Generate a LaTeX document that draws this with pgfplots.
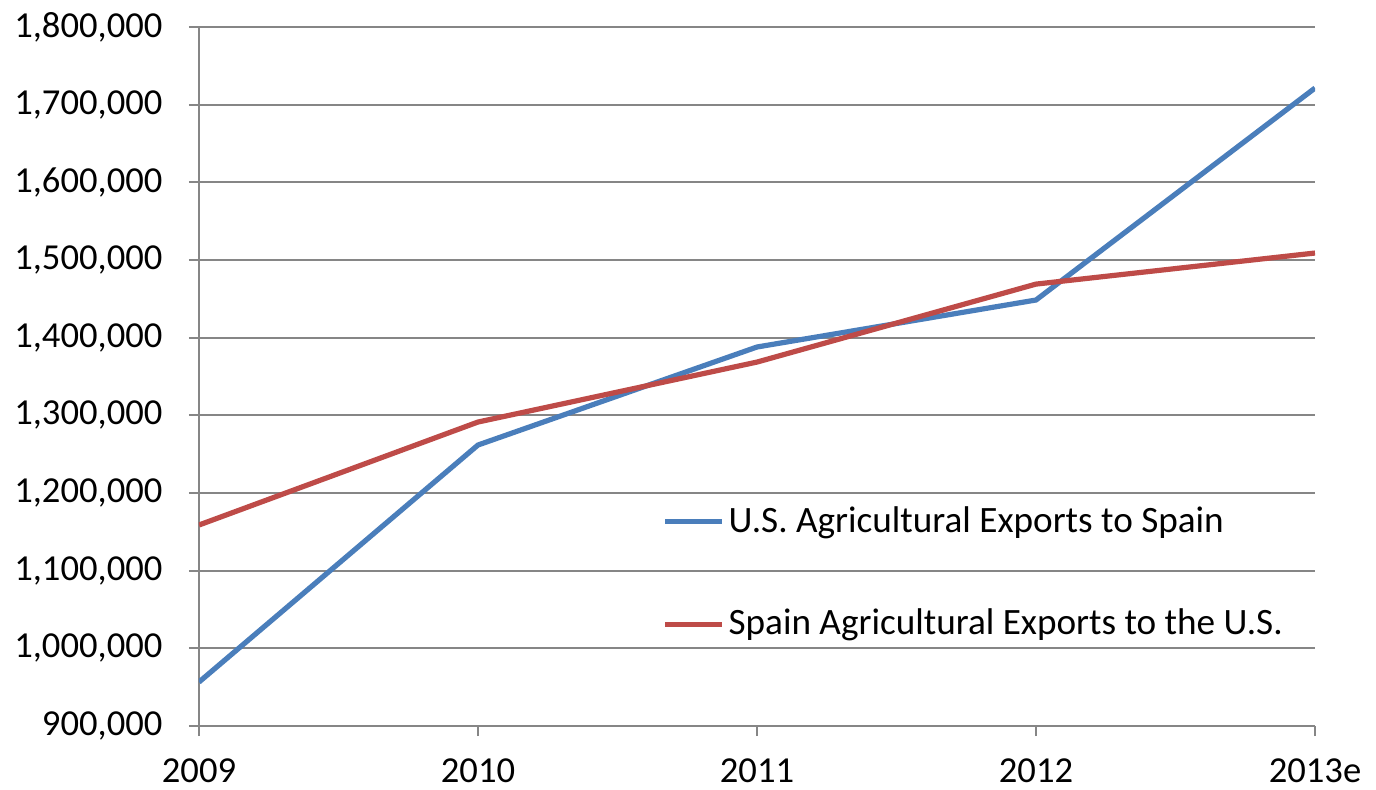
\documentclass[border=0pt]{standalone}
\usepackage{pgfplots}
\pgfplotsset{compat=1.18}
\usepackage{fontspec}
\setmainfont{Carlito}
\definecolor{usblue}{HTML}{4A7EBB}
\definecolor{esred}{HTML}{BE4B48}
\definecolor{gridgray}{HTML}{868686}
\begin{document}
\fontsize{18.3pt}{21pt}\selectfont
\begin{tikzpicture}
\begin{axis}[
    scale only axis,
    width=558pt,
    height=349.5pt,
    xmin=0, xmax=4,
    xtick={0,1,2,3,4},
    xticklabels={2009,2010,2011,2012,2013e},
    ymin=900000, ymax=1800000,
    ytick={900000,1000000,1100000,1200000,1300000,1400000,1500000,1600000,1700000,1800000},
    scaled y ticks=false,
    yticklabel style={xshift=-7pt, /pgf/number format/.cd, fixed, 1000 sep={,}, assume math mode=true},
    xticklabel style={yshift=-5pt},
    axis x line*=bottom,
    axis y line*=left,
    axis line style={gridgray, line width=1pt},
    tick style={gridgray, line width=1pt},
    tick align=outside,
    major tick length=5pt,
    ymajorgrids,
    grid style={gridgray, line width=1pt},
    tick label style={font=\fontsize{18.3pt}{21pt}\selectfont},
    legend cell align=left,
    legend style={draw=none, fill=none, at={(axis cs:1.638,1097000)}, anchor=west,
        font=\fontsize{18.6pt}{21pt}\selectfont, row sep=31.5pt},
    legend image code/.code={\draw[#1] (0pt,0pt) -- (28.5pt,0pt);},
]
\addplot[usblue, line width=2.6pt] coordinates {
    (0, 956600) (1, 1261800) (2, 1388000) (3, 1448500) (4, 1721400)
};
\addlegendentry{U.S. Agricultural Exports to Spain}
\addplot[esred, line width=2.6pt] coordinates {
    (0, 1158800) (1, 1291400) (2, 1368600) (3, 1469000) (4, 1509000)
};
\addlegendentry{Spain Agricultural Exports to the U.S.}
\end{axis}
\pgfresetboundingbox
\path (-99.5pt,-31.5pt) rectangle (588.5pt,363pt);
\end{tikzpicture}
\end{document}
